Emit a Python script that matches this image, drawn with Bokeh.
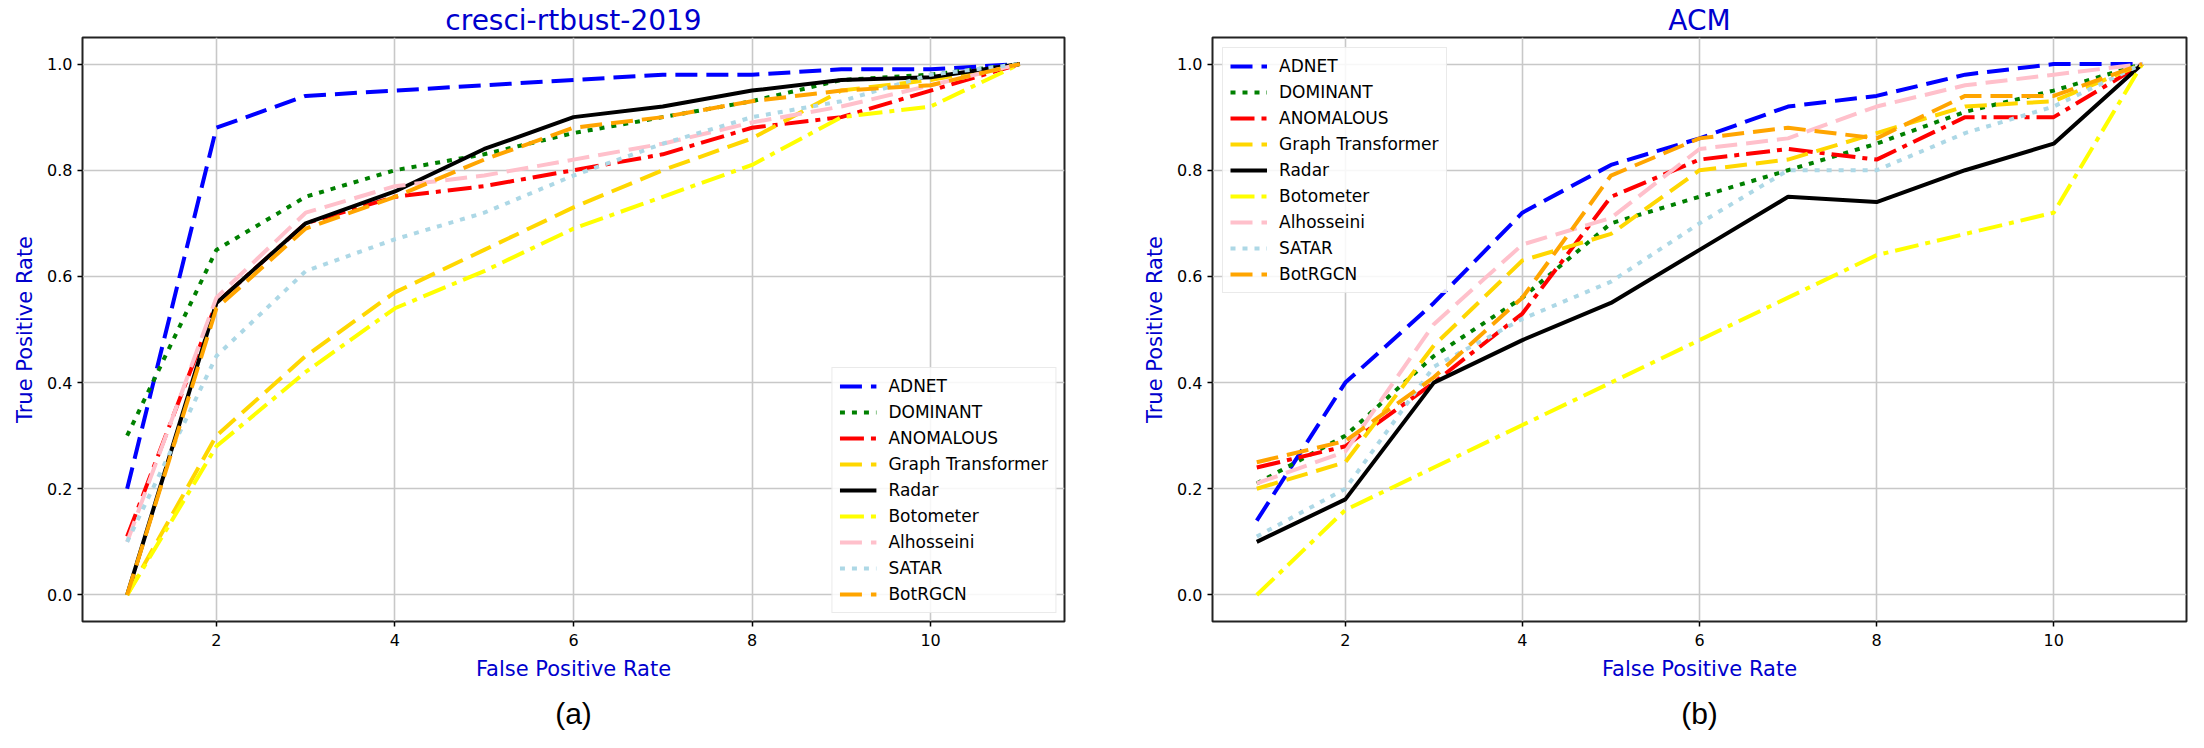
from bokeh.plotting import figure
from bokeh.models import Legend, LegendItem, FixedTicker, PrintfTickFormatter, Title, Range1d
from bokeh.layouts import row
from bokeh.embed import file_html
from bokeh.resources import INLINE

# ---------------- data ----------------
fpr = [1, 2, 3, 4, 5, 6, 7, 8, 9, 10, 11]
methods = ["ADNET", "DOMINANT", "ANOMALOUS", "Graph Transformer", "Radar",
           "Botometer", "Alhosseini", "SATAR", "BotRGCN"]

# cresci-rtbust-2019
cresci_adnet = [0.20, 0.88, 0.94, 0.95, 0.96, 0.97, 0.98, 0.98, 0.99, 0.99, 1.0]
cresci_dominant = [0.30, 0.65, 0.75, 0.80, 0.83, 0.87, 0.90, 0.93, 0.97, 0.98, 1.0]
cresci_anomalous = [0.11, 0.55, 0.70, 0.75, 0.77, 0.80, 0.83, 0.88, 0.90, 0.95, 1.0]
cresci_graph_transformer = [0.0, 0.30, 0.45, 0.57, 0.65, 0.73, 0.80, 0.86, 0.95, 0.97, 1.0]
cresci_radar = [0.0, 0.55, 0.70, 0.76, 0.84, 0.90, 0.92, 0.95, 0.97, 0.975, 1.0]
cresci_botometer = [0.0, 0.28, 0.42, 0.54, 0.61, 0.69, 0.75, 0.81, 0.90, 0.92, 1.0]
cresci_alhosseini = [0.10, 0.56, 0.72, 0.77, 0.79, 0.82, 0.85, 0.89, 0.92, 0.96, 1.0]
cresci_satar = [0.10, 0.45, 0.61, 0.67, 0.72, 0.79, 0.85, 0.90, 0.93, 0.98, 1.0]
cresci_botrgcn = [0.0, 0.54, 0.69, 0.75, 0.82, 0.88, 0.90, 0.93, 0.95, 0.96, 1.0]

# ACM
acm_adnet = [0.14, 0.40, 0.55, 0.72, 0.81, 0.86, 0.92, 0.94, 0.98, 1.0, 1.0]
acm_dominant = [0.21, 0.30, 0.45, 0.56, 0.70, 0.75, 0.80, 0.85, 0.91, 0.95, 1.0]
acm_anomalous = [0.24, 0.28, 0.40, 0.53, 0.75, 0.82, 0.84, 0.82, 0.90, 0.90, 1.0]
acm_graph_transformer = [0.20, 0.25, 0.47, 0.63, 0.68, 0.80, 0.82, 0.87, 0.92, 0.93, 1.0]
acm_radar = [0.10, 0.18, 0.40, 0.48, 0.55, 0.65, 0.75, 0.74, 0.80, 0.85, 1.0]
acm_botometer = [0.0, 0.16, 0.24, 0.32, 0.40, 0.48, 0.56, 0.64, 0.68, 0.72, 1.0]
acm_alhosseini = [0.21, 0.27, 0.51, 0.66, 0.71, 0.84, 0.86, 0.92, 0.96, 0.98, 1.0]
acm_satar = [0.11, 0.20, 0.43, 0.52, 0.59, 0.70, 0.80, 0.80, 0.87, 0.92, 1.0]
acm_botrgcn = [0.25, 0.29, 0.41, 0.56, 0.79, 0.86, 0.88, 0.86, 0.94, 0.94, 1.0]

x_ticks = [2, 4, 6, 8, 10]
y_ticks = [0.0, 0.2, 0.4, 0.6, 0.8, 1.0]

# ---------------- styles ----------------
colors = ["#0000FF", "#008000", "#FF0000", "#FFD700", "#000000",
          "#FFFF00", "#FFC0CB", "#ADD8E6", "#FFA500"]
DASHED = "22 9"
DOTTED = "5 7"
DASHDOT = "24 7 5 7"
dashes = [DASHED, DOTTED, DASHDOT, DASHED, "solid", DASHDOT, DASHED, DOTTED, DASHED]

BLUE_TXT = "#0000CD"


def make_fig(title, series, legend_loc, legend_margin, caption, width,
             border_left, border_right):
    p = figure(width=width, height=732,
               x_range=Range1d(0.5, 11.5), y_range=Range1d(-0.05, 1.05),
               output_backend="svg", toolbar_location=None,
               min_border_left=border_left, min_border_right=border_right,
               min_border_top=35, min_border_bottom=111)
    p.title.text = title
    p.title.align = "center"
    p.title.text_font = "DejaVu Sans"
    p.title.text_font_size = "28px"
    p.title.text_font_style = "normal"
    p.title.text_color = BLUE_TXT
    p.title.standoff = 2

    p.xaxis.ticker = FixedTicker(ticks=x_ticks)
    p.yaxis.ticker = FixedTicker(ticks=y_ticks)
    p.xaxis.formatter = PrintfTickFormatter(format="%d")
    p.yaxis.formatter = PrintfTickFormatter(format="%.1f")
    p.xaxis.axis_label = "False Positive Rate"
    p.yaxis.axis_label = "True Positive Rate"
    for ax in (p.xaxis, p.yaxis):
        ax.axis_label_text_font = "DejaVu Sans"
        ax.axis_label_text_font_size = "21px"
        ax.axis_label_text_font_style = "normal"
        ax.axis_label_text_color = BLUE_TXT
        ax.major_label_text_font = "DejaVu Sans"
        ax.major_label_text_font_size = "16px"
        ax.major_label_text_color = "black"
        ax.major_tick_out = 5
        ax.major_tick_in = 0
        ax.minor_tick_out = 0
        ax.minor_tick_in = 0
        ax.major_tick_line_color = "black"
        ax.major_tick_line_width = 1.5
        ax.axis_line_color = None
    p.xaxis.major_label_standoff = 7
    p.yaxis.major_label_standoff = 5
    p.xaxis.axis_label_standoff = 8
    p.yaxis.axis_label_standoff = 7

    p.grid.grid_line_color = "#c8c8c8"
    p.grid.grid_line_width = 1.6
    p.outline_line_color = "#222222"
    p.outline_line_width = 2
    p.outline_line_alpha = 1.0
    p.background_fill_color = "white"
    p.border_fill_color = "white"

    items = []
    for name, ys, col, dash in zip(methods, series, colors, dashes):
        r = p.line(fpr, ys, line_color=col, line_width=4, line_dash=dash)
        items.append(LegendItem(label=name, renderers=[r]))

    leg = Legend(items=items, location=legend_loc)
    leg.margin = legend_margin
    leg.padding = 7
    leg.spacing = 4
    leg.glyph_width = 37
    leg.glyph_height = 22
    leg.label_height = 22
    leg.label_standoff = 12
    leg.label_text_font = "DejaVu Sans"
    leg.label_text_font_size = "17px"
    leg.label_text_color = "black"
    leg.border_line_color = "#d5d5d5"
    leg.border_line_width = 1.5
    leg.background_fill_color = "white"
    leg.background_fill_alpha = 0.85
    p.add_layout(leg)

    spacer = Title(text=" ", text_font="DejaVu Sans", text_font_size="7.5px",
                   standoff=0)
    p.add_layout(spacer, "below")
    cap = Title(text=caption, align="center", offset=-35,
                text_font="Liberation Sans", text_font_size="30px",
                text_font_style="normal", text_color="black", standoff=0,
                vertical_align="bottom")
    p.add_layout(cap, "below")
    return p


cresci_series = [cresci_adnet, cresci_dominant, cresci_anomalous,
                 cresci_graph_transformer, cresci_radar, cresci_botometer,
                 cresci_alhosseini, cresci_satar, cresci_botrgcn]
acm_series = [acm_adnet, acm_dominant, acm_anomalous, acm_graph_transformer,
              acm_radar, acm_botometer, acm_alhosseini, acm_satar, acm_botrgcn]

p1 = make_fig("cresci-rtbust-2019", cresci_series, "bottom_right", 8, "(a)",
              1130, 82, 66)
p2 = make_fig("ACM", acm_series, "top_left", 10, "(b)", 1058, 82, 2)

layout = row(p1, p2)
open("out.html", "w").write(file_html(layout, INLINE))
